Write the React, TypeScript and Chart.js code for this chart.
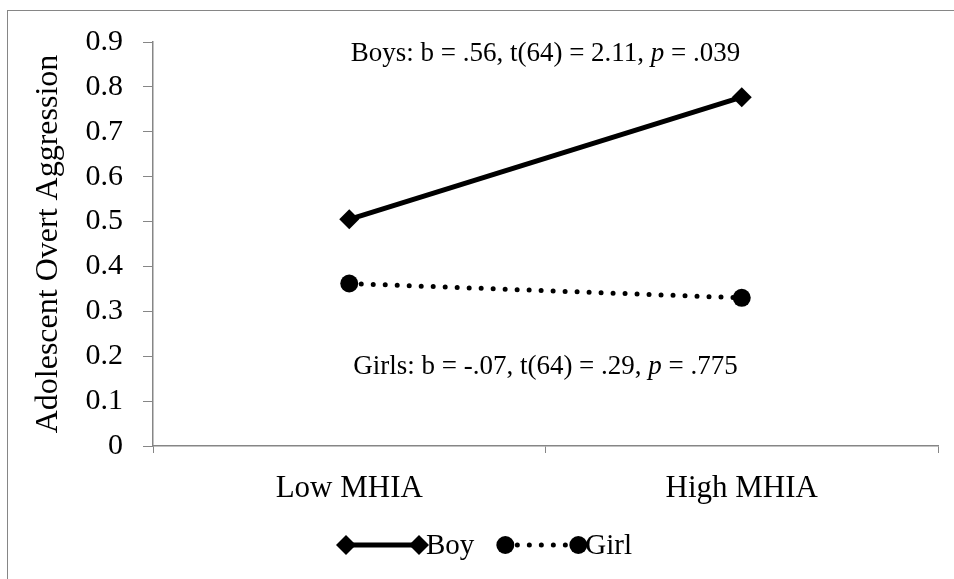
import React, { useEffect, useRef } from "react";
import { Chart, registerables } from "chart.js";

Chart.register(...registerables);

const categories = ["Low MHIA", "High MHIA"];
const boyValues = [0.505, 0.777];
const girlValues = [0.362, 0.33];
const seriesLabels = ["Boy", "Girl"];
const yAxisTitle = "Adolescent Overt Aggression";
const boysNote = ["Boys: b = .56, t(64) = 2.11, ", "p", " = .039"];
const girlsNote = ["Girls: b = -.07, t(64) = .29, ", "p", " = .775"];

const FONT = "'Liberation Serif', 'Times New Roman', serif";
const FS = 29;
const NOTE_FS = 27;

function drawNote(ctx: CanvasRenderingContext2D, parts: string[], cx: number, baseY: number) {
  const normal = `${NOTE_FS}px ${FONT}`;
  const italic = `italic ${NOTE_FS}px ${FONT}`;
  ctx.save();
  ctx.fillStyle = "#000";
  ctx.textBaseline = "alphabetic";
  ctx.textAlign = "left";
  const fonts = [normal, italic, normal];
  let total = 0;
  const widths = parts.map((p, i) => {
    ctx.font = fonts[i];
    const w = ctx.measureText(p).width;
    total += w;
    return w;
  });
  let x = cx - total / 2;
  parts.forEach((p, i) => {
    ctx.font = fonts[i];
    ctx.fillText(p, x, baseY);
    x += widths[i];
  });
  ctx.restore();
}

const extrasPlugin = {
  id: "extras",
  beforeDraw(chart: any) {
    const ctx = chart.ctx;
    ctx.save();
    ctx.strokeStyle = "#868686";
    ctx.lineWidth = 1;
    ctx.strokeRect(7.5, 10.5, 1000, 1000);
    ctx.restore();
  },
  afterDraw(chart: any) {
    const ctx: CanvasRenderingContext2D = chart.ctx;
    const x = chart.scales.x;
    const y = chart.scales.y;
    const cx = (x.left + x.right) / 2;
    drawNote(ctx, boysNote, cx, y.getPixelForValue(0.9) + 19);
    drawNote(ctx, girlsNote, cx, y.getPixelForValue(0.17) + 4);

    // legend
    const ly = 545;
    const items = chart.data.datasets.map((ds: any) => ds);
    ctx.save();
    ctx.font = `${FS}px ${FONT}`;
    ctx.textBaseline = "middle";
    ctx.fillStyle = "#000";
    let lx = 346;
    items.forEach((ds: any) => {
      const x0 = lx;
      const x1 = lx + 73;
      ctx.save();
      ctx.strokeStyle = "#000";
      ctx.lineWidth = ds.borderWidth;
      ctx.lineCap = ds.borderCapStyle || "butt";
      ctx.setLineDash(ds.borderDash || []);
      ctx.beginPath();
      ctx.moveTo(x0, ly);
      ctx.lineTo(x1, ly);
      ctx.stroke();
      ctx.restore();
      [x0, x1].forEach((px) => {
        ctx.beginPath();
        const r = ds.pointRadius;
        if (ds.pointStyle === "rectRot") {
          ctx.moveTo(px - r, ly);
          ctx.lineTo(px, ly - r);
          ctx.lineTo(px + r, ly);
          ctx.lineTo(px, ly + r);
          ctx.closePath();
        } else {
          ctx.arc(px, ly, r, 0, Math.PI * 2);
        }
        ctx.fill();
      });
      ctx.fillText(ds.label, x1 + 7, ly + 1);
      const tw = ctx.measureText(ds.label).width;
      lx = x1 + 7 + tw + 31;
    });
    ctx.restore();
  },
};

export default function App() {
  const ref = useRef<HTMLCanvasElement | null>(null);
  useEffect(() => {
    if (!ref.current) return;
    const chart = new Chart(ref.current, {
      type: "line",
      data: {
        labels: categories,
        datasets: [
          {
            label: seriesLabels[0],
            data: boyValues,
            borderColor: "#000",
            backgroundColor: "#000",
            borderWidth: 5,
            pointStyle: "rectRot",
            pointRadius: 10,
            pointBackgroundColor: "#000",
            pointBorderColor: "#000",
            pointBorderWidth: 0,
            fill: false,
          },
          {
            label: seriesLabels[1],
            data: girlValues,
            borderColor: "#000",
            backgroundColor: "#000",
            borderWidth: 5,
            borderDash: [0, 12],
            borderCapStyle: "round",
            pointStyle: "circle",
            pointRadius: 9,
            pointBackgroundColor: "#000",
            pointBorderColor: "#000",
            pointBorderWidth: 0,
            fill: false,
          },
        ],
      },
      options: {
        animation: false,
        responsive: false,
        maintainAspectRatio: false,
        layout: { padding: { left: 0, top: 42, right: 16, bottom: 0 } },
        plugins: {
          legend: { display: false },
          tooltip: { enabled: false },
        },
        scales: {
          x: {
            type: "category",
            offset: true,
            grid: {
              offset: true,
              drawOnChartArea: false,
              drawTicks: true,
              tickLength: 7,
              color: "#868686",
            },
            border: { color: "#868686", width: 1.5 },
            ticks: {
              color: "#000",
              font: { family: FONT, size: 31 },
              padding: 17,
              maxRotation: 0,
            },
            afterFit: (s: any) => {
              s.height = 133;
            },
          },
          y: {
            min: 0,
            max: 0.9,
            ticks: {
              stepSize: 0.1,
              color: "#000",
              font: { family: FONT, size: 30 },
              padding: 20,
              callback: (v: any) => {
                const n = Math.round(Number(v) * 10) / 10;
                return n === 0 ? "0" : n.toFixed(1);
              },
            },
            grid: {
              drawOnChartArea: false,
              drawTicks: true,
              tickLength: 10,
              color: "#868686",
            },
            border: { color: "#868686", width: 1.5 },
            title: {
              display: true,
              text: yAxisTitle,
              color: "#000",
              font: { family: FONT, size: 32 },
              padding: { top: 29, bottom: 0 },
            },
            afterFit: (s: any) => {
              s.width = 153;
            },
          },
        },
      },
      plugins: [extrasPlugin],
    });
    return () => chart.destroy();
  }, []);
  return (
    <div style={{ position: "absolute", left: 0, top: 0, width: 954, height: 579, background: "#fff" }}>
      <canvas ref={ref} width={954} height={579} style={{ width: 954, height: 579 }} />
    </div>
  );
}
